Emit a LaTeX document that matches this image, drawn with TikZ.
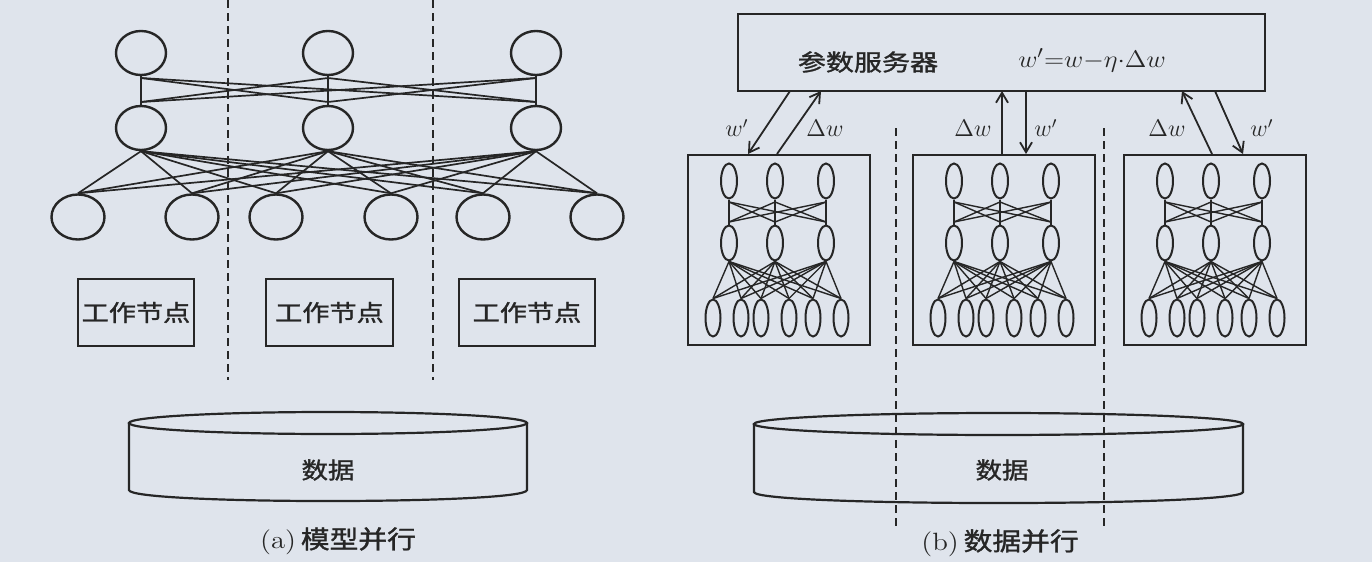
\documentclass[tikz,border=0pt]{standalone}
\usepackage{fontspec}
\newfontfamily\cjk{Noto Sans CJK SC}[FakeBold=1.2]
\usetikzlibrary{shapes.geometric,arrows.meta}
\definecolor{bg}{RGB}{223,228,236}
\definecolor{ink}{RGB}{38,38,38}
\newcommand{\cjs}[3]{\scalebox{#1}[1]{\fontsize{#2}{#2}\selectfont\cjk #3}}
\begin{document}
\begin{tikzpicture}[x=0.5pt,y=-0.5pt,
  every node/.style={text=ink},
  bign/.style={ellipse, draw=ink, line width=1.2pt, inner sep=0pt, minimum width=25pt, minimum height=22pt},
  bigb/.style={bign, minimum width=26.5pt, minimum height=22.5pt},
  minin/.style={ellipse, draw=ink, line width=1pt, inner sep=0pt, minimum width=8pt, minimum height=17.5pt},
  minib/.style={minin, minimum width=7.5pt, minimum height=18.5pt},
  nedge/.style={draw=ink, line width=0.85pt},
  medge/.style={draw=ink, line width=0.7pt},
  box/.style={draw=ink, line width=1.1pt, inner sep=0pt},
  sepline/.style={draw=ink, line width=1.1pt, dash pattern=on 4pt off 2.5pt},
  arr/.style={draw=ink, line width=0.9pt, -{Straight Barb[length=5pt,width=6pt]}},
  lbl/.style={inner sep=0pt, font=\fontsize{12pt}{12pt}\selectfont},
  cyl/.style={draw=ink, line width=1.1pt},
]
\fill[bg] (0,0) rectangle (1372,562);
\useasboundingbox (0,0) rectangle (1372,562);

% ---------- (a) model parallel ----------
\draw[sepline] (228,0) -- (228,380);
\draw[sepline] (433,0) -- (433,380);

\foreach \n/\x in {1/141,2/328,3/536} {
  \node[bign] (T\n) at (\x,53) {};
  \node[bign] (M\n) at (\x,128) {};
  \coordinate (Ta\n) at (\x,78);
  \coordinate (Mb\n) at (\x,102);
}
\foreach \n/\x in {1/78,2/192,3/276,4/391,5/483,6/597}
  \node[bigb] (B\n) at (\x,217) {};
\foreach \i in {1,2,3} {
  \draw[nedge] (T\i.south) -- (M\i.north);
  \foreach \j in {1,2,3} {
    \ifnum\i=\j\relax\else \draw[nedge] (Ta\i) -- (Mb\j); \fi
  }
  \foreach \j in {1,...,6} \draw[nedge] (M\i.south) -- (B\j.north);
}

\node[box, minimum width=58pt, minimum height=33.5pt] (W1a) at (136,312.5) {\cjs{1.18}{11.5pt}{工作节点}};
\node[box, minimum width=63.5pt, minimum height=33.5pt] (W2a) at (329.5,312.5) {\cjs{1.18}{11.5pt}{工作节点}};
\node[box, minimum width=68pt, minimum height=33.5pt] (W3a) at (527,312.5) {\cjs{1.18}{11.5pt}{工作节点}};

% cylinder (a)
\draw[cyl] (129,423) -- (129,490) .. controls (129,504.7) and (527,504.7) .. (527,490) -- (527,423);
\draw[cyl] (328,423) ellipse [x radius=99.5pt, y radius=5.5pt];
\node (Da) at (328,470) {\cjs{1.15}{11.5pt}{数据}};
\node (Ca) at (338,541) {\fontsize{12.5pt}{12.5pt}\selectfont\scalebox{1.15}[1]{(a)\,\cjk 模型并行}};

% ---------- (b) data parallel ----------
\node[box, minimum width=263.5pt, minimum height=38.5pt] (srv) at (1001.5,52.5) {};
\node (srvt) at (868,62) {\cjs{1.22}{11.5pt}{参数服务器}};
\node (frm) at (1092,60) {\fontsize{13pt}{13pt}\selectfont\scalebox{1.1}[1]{$w'{=}w{-}\eta{\cdot}\Delta w$}};

\draw[sepline] (896,128) -- (896,530);
\draw[sepline] (1104,128) -- (1104,530);

\foreach \k/\bx in {1/687,2/912,3/1123} {
  \node[box, minimum width=91pt, minimum height=95pt, anchor=north west] (W\k) at (\bx,154) {};
  \foreach \n/\dx in {1/42,2/88,3/139} {
    \node[minin] (t\k-\n) at (\bx+\dx,181) {};
    \node[minin] (m\k-\n) at (\bx+\dx,243) {};
    \coordinate (ta\k-\n) at (\bx+\dx,202);
    \coordinate (mb\k-\n) at (\bx+\dx,222);
  }
  \foreach \n/\dx in {1/26,2/54,3/74,4/102,5/126,6/154}
    \node[minib] (b\k-\n) at (\bx+\dx,318) {};
  \foreach \i in {1,2,3} {
    \draw[medge] (t\k-\i.south) -- (m\k-\i.north);
    \foreach \j in {1,2,3} {
      \ifnum\i=\j\relax\else \draw[medge] (ta\k-\i) -- (mb\k-\j); \fi
    }
    \foreach \j in {1,...,6} \draw[medge] (m\k-\i.south) -- (b\k-\j.north);
  }
}

% arrow end points
\coordinate (s1) at (790,91);  \coordinate (e1) at (748,154);
\coordinate (s2) at (777,154); \coordinate (e2) at (821,91);
\coordinate (s3) at (1002,154);\coordinate (e3) at (1002,91);
\coordinate (s4) at (1026,91); \coordinate (e4) at (1026,154);
\coordinate (s5) at (1212,154);\coordinate (e5) at (1182,91);
\coordinate (s6) at (1215,91); \coordinate (e6) at (1243,154);
\draw[arr] (s1) -- (e1);
\draw[arr] (s2) -- (e2);
\draw[arr] (s3) -- (e3);
\draw[arr] (s4) -- (e4);
\draw[arr] (s5) -- (e5);
\draw[arr] (s6) -- (e6);
\node[lbl] (l1) at (737,128) {$w'$};
\node[lbl] (l2) at (825,128) {$\Delta w$};
\node[lbl] (l3) at (973,128) {$\Delta w$};
\node[lbl] (l4) at (1046,128) {$w'$};
\node[lbl] (l5) at (1167,128) {$\Delta w$};
\node[lbl] (l6) at (1262,128) {$w'$};

% cylinder (b)
\draw[cyl] (754,424) -- (754,492) .. controls (754,506.7) and (1243,506.7) .. (1243,492) -- (1243,424);
\draw[cyl] (998.5,424) ellipse [x radius=122.25pt, y radius=5.5pt];
\node (Db) at (1002,470) {\cjs{1.15}{11.5pt}{数据}};
\node (Cb) at (1000,543) {\fontsize{12.5pt}{12.5pt}\selectfont\scalebox{1.15}[1]{(b)\,\cjk 数据并行}};
\end{tikzpicture}
\end{document}
